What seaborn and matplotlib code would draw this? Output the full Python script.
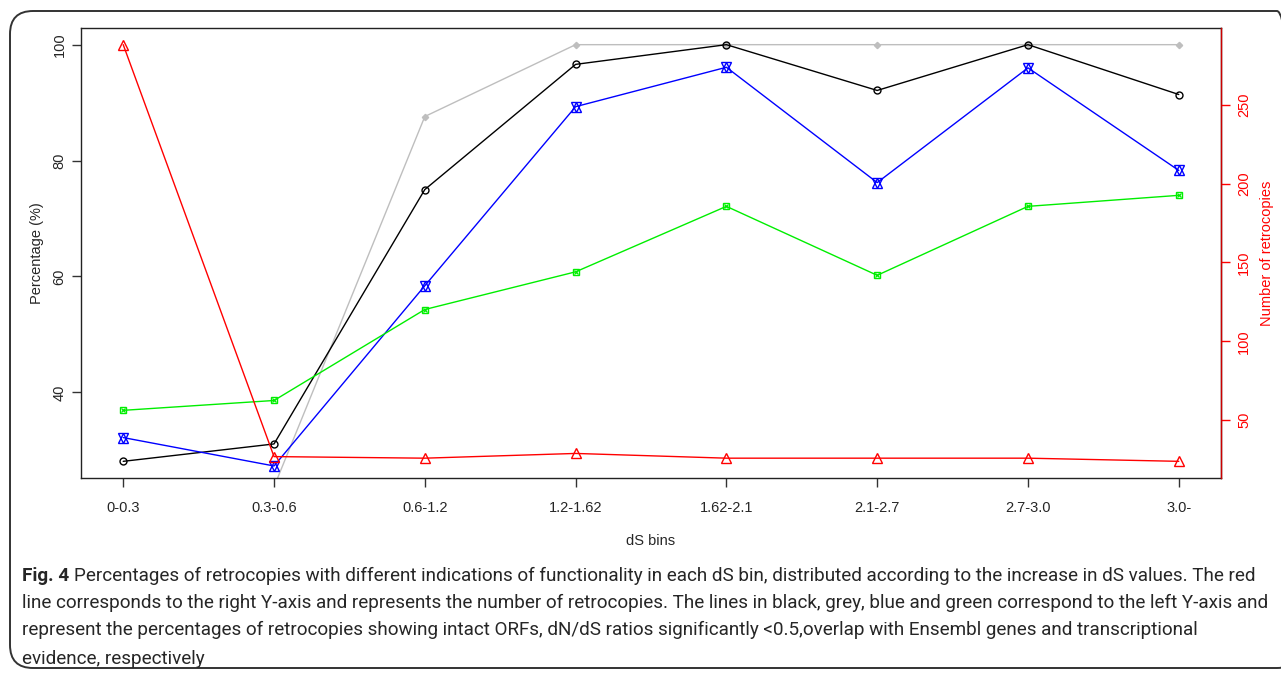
import numpy as np
import matplotlib
matplotlib.use("Agg")
import matplotlib.pyplot as plt
import seaborn as sns
from matplotlib.patches import FancyBboxPatch

# data
ds_bins = ['0-0.3', '0.3-0.6', '0.6-1.2', '1.2-1.62', '1.62-2.1', '2.1-2.7', '2.7-3.0', '3.0-']
intact_orf = [28.1, 31.1, 75.0, 96.6, 100.0, 92.1, 100.0, 91.4]      # black
dnds_sig = [10.0, 23.7, 87.6, 100.0, 100.0, 100.0, 100.0, 100.0]     # grey
ensembl_overlap = [32.2, 27.3, 58.4, 89.3, 96.1, 76.2, 96.0, 78.3]   # blue
transcribed = [36.9, 38.6, 54.3, 60.8, 72.1, 60.2, 72.1, 74.0]       # green
n_retrocopies = [288, 27, 26, 29, 26, 26, 26, 24]                     # red, right axis

left_ticks = [40, 60, 80, 100]
right_ticks = [50, 100, 150, 200, 250]

caption_lines = [
    "Percentages of retrocopies with different indications of functionality in each dS bin, distributed according to the increase in dS values. The red",
    "line corresponds to the right Y-axis and represents the number of retrocopies. The lines in black, grey, blue and green correspond to the left Y-axis and",
    "represent the percentages of retrocopies showing intact ORFs, dN/dS ratios significantly <0.5,overlap with Ensembl genes and transcriptional",
    "evidence, respectively",
]

sns.set_style("white")
plt.rcParams['font.family'] = ['Liberation Sans', 'DejaVu Sans']

W, H = 1281, 673
fig = plt.figure(figsize=(W / 100, H / 100), dpi=100)


def fx(px):
    return px / W


def fy(py):
    return 1 - py / H


# rounded frame round the figure (runs off the right edge)
frame = FancyBboxPatch((fx(10), fy(668)), fx(1300) - fx(10), fy(11) - fy(668),
                       boxstyle="round,pad=0,rounding_size=0.018",
                       transform=fig.transFigure, fill=False, ec='#333333', lw=1.4,
                       mutation_aspect=W / H)
fig.patches.append(frame)

ax = fig.add_axes([fx(81), fy(478), fx(1221) - fx(81), fy(28) - fy(478)])
x = np.arange(len(ds_bins))


def r_lim(vals):
    lo, hi = min(vals), max(vals)
    pad = 0.04 * (hi - lo)
    return lo - pad, hi + pad


def series(a, vals, color, marker, ms, **kw):
    sns.lineplot(x=x, y=vals, ax=a, color=color, lw=1, marker=marker, markersize=ms,
                 markeredgecolor=color, markeredgewidth=1, **kw)


series(ax, intact_orf, 'black', 'o', 5, markerfacecolor='none')
series(ax, dnds_sig, '#bebebe', 'D', 3.2, markerfacecolor='#bebebe', zorder=1.5)
series(ax, ensembl_overlap, '#0000ff', '^', 6.5, markerfacecolor='none')
ax.plot(x, ensembl_overlap, ls='none', marker='v', ms=6.5, mfc='none', mec='#0000ff', mew=1)
series(ax, transcribed, '#00ee00', 's', 5, markerfacecolor='none')
ax.plot(x, transcribed, ls='none', marker='x', ms=3.5, mec='#00ee00', mew=0.9)

ax.set_xlim(-0.28, len(ds_bins) - 1 + 0.28)
ax.set_ylim(*r_lim(intact_orf))
ax.set_xticks(x)
ax.set_xticklabels(ds_bins)
ax.set_yticks(left_ticks)
ax.set_xlabel('')
ax.set_ylabel('')
ax.tick_params(axis='x', length=6.7, width=1, color='#333333', pad=10, labelsize=10.5, bottom=True)
ax.tick_params(axis='y', length=6.7, width=1, color='#333333', pad=3.6, labelsize=10.5,
               labelrotation=90, left=True)
for lab in ax.get_yticklabels():
    lab.set_va('center')
for s in ax.spines.values():
    s.set_color('#222222')
    s.set_linewidth(1)

ax2 = ax.twinx()
series(ax2, n_retrocopies, '#ff0000', '^', 7, markerfacecolor='none')
ax2.set_ylim(*r_lim(n_retrocopies))
ax2.set_yticks(right_ticks)
ax2.set_ylabel('')
ax2.tick_params(axis='y', length=6.7, width=1, color='#ff0000', labelcolor='#ff0000', pad=4.8,
                labelsize=10.5, labelrotation=90, right=True)
for lab in ax2.get_yticklabels():
    lab.set_va('center')
for name, s in ax2.spines.items():
    s.set_visible(name == 'right')
ax2.spines['right'].set_color('#cc0000')
ax2.spines['right'].set_linewidth(1)

fig.text(fx(37.5), fy(253), 'Percentage (%)', rotation=90, ha='center', va='center', fontsize=10.5)
fig.text(fx(1267), fy(253), 'Number of retrocopies', rotation=90, ha='center', va='center',
         fontsize=10.5, color='#ff0000')
fig.text(fx(651), fy(541), 'dS bins', ha='center', va='center', fontsize=10.5)

# caption
cap_font = ['Liberation Sans Narrow', 'Roboto', 'DejaVu Sans']
cap_size = 13.6
cap_y = [576, 603, 630, 659]
renderer = fig.canvas.get_renderer()
bold = fig.text(fx(22), fy(cap_y[0]), 'Fig. 4', ha='left', va='center', fontsize=cap_size,
                fontweight='bold', family=cap_font)
bb = bold.get_window_extent(renderer)
fig.text(fx(bb.x1 + 5), fy(cap_y[0]), caption_lines[0], ha='left', va='center',
         fontsize=cap_size, family=cap_font)
for line, yy in zip(caption_lines[1:], cap_y[1:]):
    fig.text(fx(22), fy(yy), line, ha='left', va='center', fontsize=cap_size, family=cap_font)

fig.savefig('out.png', dpi=100)
